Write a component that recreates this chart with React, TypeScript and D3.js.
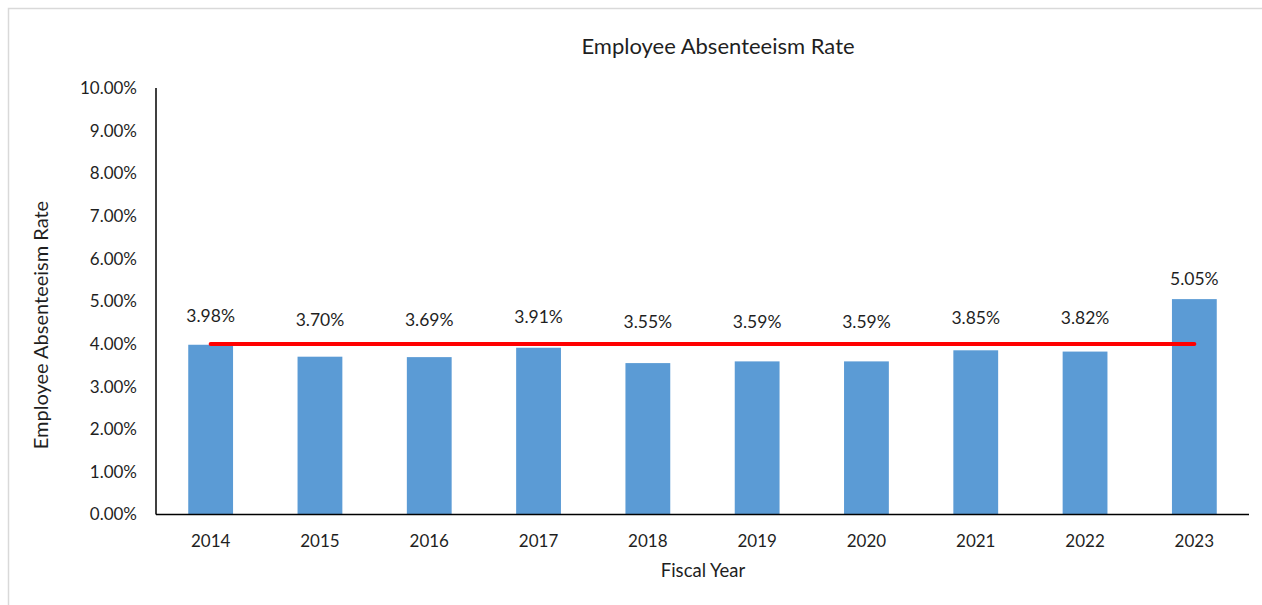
import React from "react";
import * as d3 from "d3";

const years = ["2014", "2015", "2016", "2017", "2018", "2019", "2020", "2021", "2022", "2023"];
const rates = [3.98, 3.7, 3.69, 3.91, 3.55, 3.59, 3.59, 3.85, 3.82, 5.05];
const target = 4.0;
const yTicks = [0, 1, 2, 3, 4, 5, 6, 7, 8, 9, 10];
const title = "Employee Absenteeism Rate";
const xTitle = "Fiscal Year";
const yTitle = "Employee Absenteeism Rate";

const W = 1262;
const H = 605;
const FONT = "Lato, 'Open Sans', sans-serif";
const TEXT = "#1f1f1f";

export default function App() {
  const left = 156;
  const right = 1249;
  const top = 88;
  const bottom = 514.5;

  const x = d3.scaleBand<string>().domain(years).range([left, right]).paddingInner(0.59).paddingOuter(0.295);
  const y = d3.scaleLinear().domain([0, 10]).range([bottom, top]);
  const xc = (yr: string) => (x(yr) as number) + x.bandwidth() / 2;

  const labelY = (v: number) =>
    v >= target ? y(v) - 20 : y(target) - 21 - (v - 3.5) * 15;

  return (
    <svg width={W} height={H} style={{ position: "absolute", left: 0, top: 0, background: "#fff" }}>
      <rect x={8.5} y={8.5} width={W + 10} height={H + 10} fill="#fff" stroke="#d9d9d9" strokeWidth={1.5} />
      <text x={718} y={54} textAnchor="middle" fontFamily={FONT} fontSize={22} fill={TEXT}>
        {title}
      </text>
      {yTicks.map((t) => (
        <text key={t} x={137} y={y(t)} dy="0.35em" textAnchor="end" fontFamily={FONT} fontSize={17} fill={TEXT}>
          {t.toFixed(2) + "%"}
        </text>
      ))}
      {years.map((yr, i) => (
        <rect key={yr} x={x(yr)} y={y(rates[i])} width={x.bandwidth()} height={bottom - y(rates[i])} fill="#5B9BD5" />
      ))}
      <line x1={left} x2={left} y1={top} y2={bottom} stroke="#000" strokeWidth={1.5} />
      <line x1={left} x2={right} y1={bottom} y2={bottom} stroke="#000" strokeWidth={1.5} />
      <line
        x1={xc(years[0])}
        x2={xc(years[years.length - 1])}
        y1={y(target)}
        y2={y(target)}
        stroke="#FF0000"
        strokeWidth={4}
        strokeLinecap="round"
      />
      {years.map((yr, i) => (
        <text key={yr} x={xc(yr)} y={labelY(rates[i])} dy="0.35em" textAnchor="middle" fontFamily={FONT} fontSize={17.5} fill={TEXT}>
          {rates[i].toFixed(2) + "%"}
        </text>
      ))}
      {years.map((yr) => (
        <text key={yr} x={xc(yr)} y={547} textAnchor="middle" fontFamily={FONT} fontSize={17} fill={TEXT}>
          {yr}
        </text>
      ))}
      <text x={703} y={577} textAnchor="middle" fontFamily={FONT} fontSize={18.5} fill={TEXT}>
        {xTitle}
      </text>
      <text
        transform={`translate(48, 325) rotate(-90)`}
        textAnchor="middle"
        fontFamily={FONT}
        fontSize={20}
        fill={TEXT}
      >
        {yTitle}
      </text>
    </svg>
  );
}
